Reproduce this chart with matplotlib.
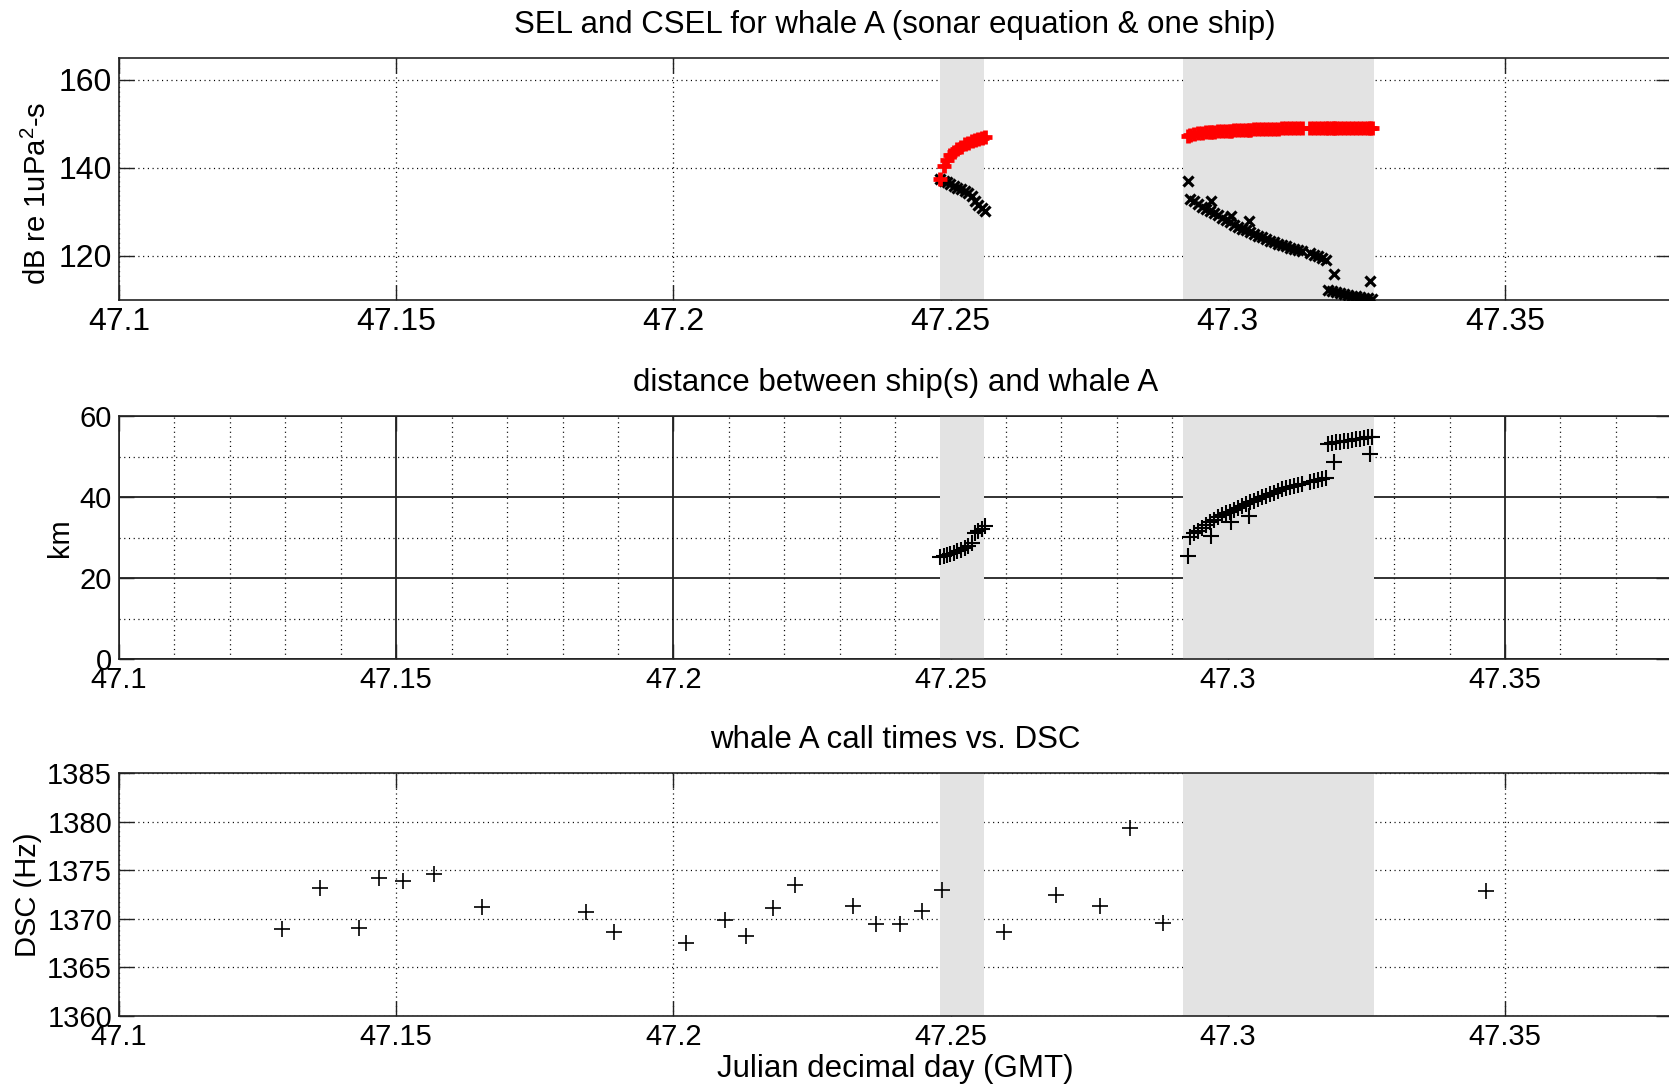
import numpy as np
import matplotlib.pyplot as plt
from matplotlib.ticker import MultipleLocator

plt.rcParams['font.family'] = ['Liberation Sans', 'DejaVu Sans']
plt.rcParams['mathtext.fontset'] = 'custom'
plt.rcParams['mathtext.rm'] = 'Liberation Sans'
plt.rcParams['lines.scale_dashes'] = False

# ship transmissions heard at whale A: time, range, SEL, cumulative SEL
ship_t = [47.24809, 47.24872, 47.24935, 47.24998, 47.25061, 47.25124, 47.25188,
          47.25251, 47.25314, 47.25377, 47.25440, 47.25503, 47.25566, 47.25629,
          47.29282, 47.29318, 47.29390, 47.29462, 47.29535, 47.29607, 47.29679,
          47.29690, 47.29751, 47.29823, 47.29895, 47.29968, 47.30040, 47.30050,
          47.30112, 47.30184, 47.30256, 47.30328, 47.30382, 47.30400, 47.30473,
          47.30545, 47.30617, 47.30689, 47.30761, 47.30833, 47.30906, 47.30978,
          47.31050, 47.31122, 47.31194, 47.31266, 47.31339, 47.31483, 47.31555,
          47.31627, 47.31699, 47.31771, 47.31807, 47.31880, 47.31916, 47.31952,
          47.32024, 47.32096, 47.32168, 47.32240, 47.32313, 47.32385, 47.32457,
          47.32529, 47.32565, 47.32601]
ship_km = [25.3, 25.5, 25.8, 26.0, 26.3, 26.6, 26.9, 27.3, 27.8, 28.6, 31.0, 31.6, 32.2, 32.8,
           25.4, 30.2, 31.0, 31.7, 32.4, 33.1, 33.8, 30.4, 34.4, 35.0, 35.5, 36.0, 36.4, 33.9,
           36.9, 37.4, 37.8, 38.3, 35.3, 38.7, 39.1, 39.5, 39.9, 40.3, 40.7, 41.1, 41.5, 41.9,
           42.2, 42.5, 42.8, 43.0, 43.2, 43.6, 43.9, 44.1, 44.4, 44.7, 53.1, 53.3, 48.6, 53.5,
           53.6, 53.8, 53.9, 54.1, 54.3, 54.4, 54.6, 54.8, 50.5, 54.9]
sel_db = [137.4, 137.1, 136.7, 136.3, 135.9, 135.5, 135.1, 134.7, 134.2, 133.6, 132.4, 131.6,
          130.9, 130.3,
          136.9, 133.0, 132.4, 131.8, 131.2, 130.7, 130.2, 132.5, 129.7, 129.2, 128.6, 128.1,
          127.6, 129.1, 127.1, 126.6, 126.2, 125.8, 128.0, 125.4, 125.0, 124.6, 124.2, 123.8,
          123.4, 123.1, 122.8, 122.5, 122.2, 121.9, 121.6, 121.3, 121.1, 120.6, 120.3, 120.0,
          119.6, 119.1, 112.2, 112.0, 116.0, 111.8, 111.6, 111.4, 111.2, 111.0, 110.8, 110.7,
          110.5, 110.4, 114.3, 110.2]
csel_db = [137.4, 140.3, 141.8, 142.8, 143.6, 144.3, 144.8, 145.3, 145.7, 146.1, 146.4, 146.6,
           146.8, 147.0,
           147.3, 147.4, 147.6, 147.8, 147.9, 148.0, 148.1, 148.1, 148.2, 148.3, 148.3, 148.4,
           148.4, 148.4, 148.5, 148.5, 148.6, 148.6, 148.6, 148.6, 148.7, 148.7, 148.7, 148.8,
           148.8, 148.8, 148.8, 148.9, 148.9, 148.9, 148.9, 148.9, 148.9, 149.0, 149.0, 149.0,
           149.0, 149.0, 149.0, 149.0, 149.0, 149.0, 149.0, 149.0, 149.0, 149.0, 149.0, 149.0,
           149.0, 149.0, 149.0, 149.0]

# whale A calls
call_t = [47.12948, 47.13631, 47.14322, 47.14688, 47.15116, 47.15682, 47.16551, 47.18415,
          47.18936, 47.20229, 47.20924, 47.21317, 47.21804, 47.22197, 47.23243, 47.23656,
          47.24091, 47.24475, 47.24838, 47.25956, 47.26909, 47.27695, 47.28243, 47.28824,
          47.34652]
call_dsc = [1368.9, 1373.2, 1369.1, 1374.2, 1373.9, 1374.6, 1371.2, 1370.7,
            1368.6, 1367.5, 1369.9, 1368.2, 1371.1, 1373.5, 1371.3, 1369.5,
            1369.5, 1370.8, 1373.0, 1368.6, 1372.4, 1371.3, 1379.3, 1369.6,
            1372.9]

# ship present windows (shaded)
ship_windows = [(47.2480, 47.2561), (47.2920, 47.3263)]

xticks = [47.1, 47.15, 47.2, 47.25, 47.3, 47.35]
xtick_labels = ['47.1', '47.15', '47.2', '47.25', '47.3', '47.35']

dots = (0, (0.8, 2.6))

fig = plt.figure(figsize=(16.69, 10.87), dpi=100)
W = 0.9301
ax1 = fig.add_axes([0.0713, 0.724, W, 0.2231])
ax2 = fig.add_axes([0.0713, 0.3937, W, 0.2236])
ax3 = fig.add_axes([0.0713, 0.0653, W, 0.2236])


def setup(ax, ylim, yticks, fs):
    ax.set_xlim(47.1, 47.38)
    ax.set_ylim(*ylim)
    ax.set_xticks(xticks)
    ax.set_xticklabels(xtick_labels)
    ax.set_yticks(yticks)
    ax.tick_params(which='major', direction='in', length=11, width=1, top=True, right=True,
                   labelsize=fs, pad=5, color='#222222')
    ax.tick_params(which='minor', length=0)
    for s in ax.spines.values():
        s.set_linewidth(1.2)
        s.set_color('#222222')
    for a, b in ship_windows:
        ax.axvspan(a, b, color='#e3e3e3', lw=0, zorder=1)
    ax.set_axisbelow(True)


# SEL / CSEL
setup(ax1, (110, 165), [120, 140, 160], 23)
ax1.grid(True, color='black', linestyle=dots, linewidth=0.9)
ax1.plot(ship_t, sel_db, 'x', color='black', markersize=7, markeredgewidth=2.3, zorder=3)
ax1.plot(ship_t, csel_db, '+', color='red', markersize=10, markeredgewidth=3.4, zorder=4)
ax1.set_ylabel('dB re 1uPa$^2$-s', fontsize=21)
ax1.yaxis.set_label_coords(-0.043, 0.44)
ax1.set_title('SEL and CSEL for whale A (sonar equation & one ship)', fontsize=22.5, pad=18)

# distance
setup(ax2, (0, 60), [0, 20, 40, 60], 21)
ax2.xaxis.set_minor_locator(MultipleLocator(0.01))
ax2.yaxis.set_minor_locator(MultipleLocator(10))
ax2.grid(True, which='major', color='#222222', linestyle='-', linewidth=1.3)
ax2.grid(True, which='minor', color='black', linestyle=dots, linewidth=0.9)
ax2.plot(ship_t, ship_km, '+', color='black', markersize=12, markeredgewidth=1.5, zorder=3)
ax2.set_ylabel('km', fontsize=21)
ax2.set_title('distance between ship(s) and whale A', fontsize=22.5, pad=18)

# call frequency
setup(ax3, (1360, 1385), [1360, 1365, 1370, 1375, 1380, 1385], 21)
ax3.grid(True, color='black', linestyle=dots, linewidth=0.9)
ax3.plot(call_t, call_dsc, '+', color='black', markersize=11, markeredgewidth=1.2, zorder=3)
ax3.set_ylabel('DSC (Hz)', fontsize=21)
ax3.set_xlabel('Julian decimal day (GMT)', fontsize=22.5, labelpad=2)
ax3.set_title('whale A call times vs. DSC', fontsize=22.5, pad=18)

fig.savefig('out.png', dpi=100)
